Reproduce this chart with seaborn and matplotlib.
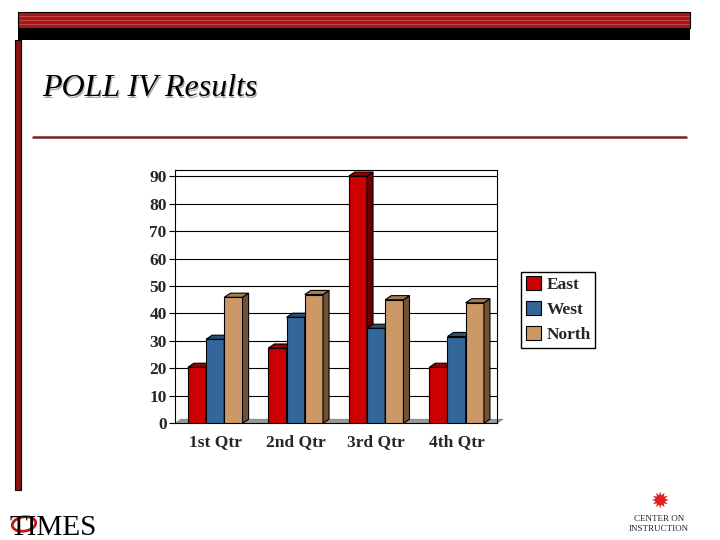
import numpy as np
import pandas as pd
import matplotlib
matplotlib.use("Agg")
import matplotlib.pyplot as plt
from matplotlib.patches import Polygon, Rectangle, Ellipse
import seaborn as sns

# chart data
quarters = ["1st Qtr", "2nd Qtr", "3rd Qtr", "4th Qtr"]
regions = ["East", "West", "North"]
east = [20.4, 27.4, 90.0, 20.4]
west = [30.6, 38.6, 34.6, 31.6]
north = [45.9, 46.9, 45.0, 43.9]
yticks = [0, 10, 20, 30, 40, 50, 60, 70, 80, 90]

front_colors = ["#cc0000", "#336699", "#cc9966"]
top_colors = ["#990000", "#24507a", "#a87a4c"]
side_colors = ["#6a0000", "#1b3a5c", "#6e5436"]

sns.set_theme(style="white")
plt.rcParams["font.family"] = ["Liberation Serif", "DejaVu Serif"]

df = pd.DataFrame({
    "quarter": quarters * 3,
    "region": np.repeat(regions, len(quarters)),
    "value": east + west + north,
})

fig = plt.figure(figsize=(7.2, 5.4), dpi=100)
ax = fig.add_axes([0.243, 0.216, 0.447, 0.469])

sns.barplot(data=df, x="quarter", y="value", hue="region", order=quarters,
            hue_order=regions, palette=front_colors, width=0.68,
            edgecolor="black", linewidth=0.8, saturation=1, ax=ax)

# fake 3d depth for each bar
dx, dy = 0.075, 1.5
for i, cont in enumerate(ax.containers):
    for rect in cont:
        x0, w, h = rect.get_x(), rect.get_width(), rect.get_height()
        rect.set_zorder(3 + i)
        top = Polygon([(x0, h), (x0 + w, h), (x0 + w + dx, h + dy), (x0 + dx, h + dy)],
                      closed=True, fc=top_colors[i], ec="black", lw=0.8,
                      zorder=3 + i, clip_on=False)
        side = Polygon([(x0 + w, 0), (x0 + w, h), (x0 + w + dx, h + dy), (x0 + w + dx, dy)],
                       closed=True, fc=side_colors[i], ec="black", lw=0.8,
                       zorder=3 + i, clip_on=False)
        ax.add_patch(side)
        ax.add_patch(top)

# grey floor
ax.add_patch(Polygon([(-0.5, 0), (3.5, 0), (3.5 + dx, dy), (-0.5 + dx, dy)],
                     closed=True, fc="#999999", ec="#777777", lw=0.5, zorder=2, clip_on=False))

ax.set_xlim(-0.5, 3.5)
ax.set_ylim(0, 92.2)
ax.set_yticks(yticks)
ax.set_yticklabels([str(t) for t in yticks], fontsize=12.5, fontweight="bold")
ax.set_xticks(range(len(quarters)))
ax.set_xticklabels(quarters, fontsize=12.5, fontweight="bold")
ax.set_xticks([-0.5, 0.5, 1.5, 2.5, 3.5], minor=True)
ax.tick_params(axis="x", which="major", length=0, pad=8)
ax.tick_params(axis="x", which="minor", length=4, width=0.8, color="black", direction="out")
ax.tick_params(axis="y", length=4, width=0.8, color="black", direction="out", pad=2, left=True)
ax.set_xlabel("")
ax.set_ylabel("")
ax.yaxis.grid(True, color="black", lw=0.8)
ax.set_axisbelow(True)
for s in ax.spines.values():
    s.set_color("black")
    s.set_linewidth(0.8)

handles, labels = ax.get_legend_handles_labels()
ax.legend(handles, labels, loc="upper left", bbox_to_anchor=(0.724, 0.497),
          bbox_transform=fig.transFigure, frameon=True, fancybox=False,
          edgecolor="black", framealpha=1,
          prop={"family": "Liberation Serif", "weight": "bold", "size": 12.5},
          handlelength=0.9, handleheight=0.9, handletextpad=0.3,
          labelspacing=0.45, borderpad=0.25, borderaxespad=0)

# slide decoration
W, H = 720, 540
def fx(px):
    return px / W
def fy(py):
    return 1 - py / H

fig.patches.append(Rectangle((fx(18), fy(28)), fx(672), 16 / H, transform=fig.transFigure,
                             fc="#a81818", ec="black", lw=0.8, figure=fig))
for yy in [16, 20, 24]:
    fig.lines.append(plt.Line2D([fx(19), fx(689)], [fy(yy), fy(yy)], transform=fig.transFigure,
                                color="#c85050", lw=0.6, figure=fig))
fig.patches.append(Rectangle((fx(18), fy(40)), fx(672), 12 / H, transform=fig.transFigure,
                             fc="black", ec="black", lw=0, figure=fig))
fig.patches.append(Rectangle((fx(15), fy(490)), fx(6), 450 / H, transform=fig.transFigure,
                             fc="#8b1212", ec="black", lw=0.8, figure=fig))
fig.lines.append(plt.Line2D([fx(33), fx(686)], [fy(137), fy(137)], transform=fig.transFigure,
                            color="#7a2020", lw=1.8, figure=fig))

fig.text(fx(43.5), fy(97.5), "POLL IV Results", fontsize=23, style="italic",
         family="Liberation Serif", color="#aaaaaa")
fig.text(fx(42), fy(96), "POLL IV Results", fontsize=23, style="italic",
         family="Liberation Serif", color="black")

# logos
fig.text(fx(9), fy(535), "TIMES", fontsize=21, family="Liberation Serif", color="black")
fig.patches.append(Ellipse((fx(24), fy(524)), fx(24), 14 / H, angle=20,
                           transform=fig.transFigure, fc="none", ec="#cc1111", lw=2, figure=fig))
fig.text(fx(659), fy(502), "\u2739", fontsize=16, color="#e02020", ha="center", va="center",
         family="DejaVu Sans")
fig.text(fx(659), fy(519), "CENTER ON", fontsize=6.5, ha="center", va="center",
         family="Liberation Serif")
fig.text(fx(659), fy(529), "INSTRUCTION", fontsize=6.5, ha="center", va="center",
         family="Liberation Serif")

fig.savefig("out.png", dpi=100)
